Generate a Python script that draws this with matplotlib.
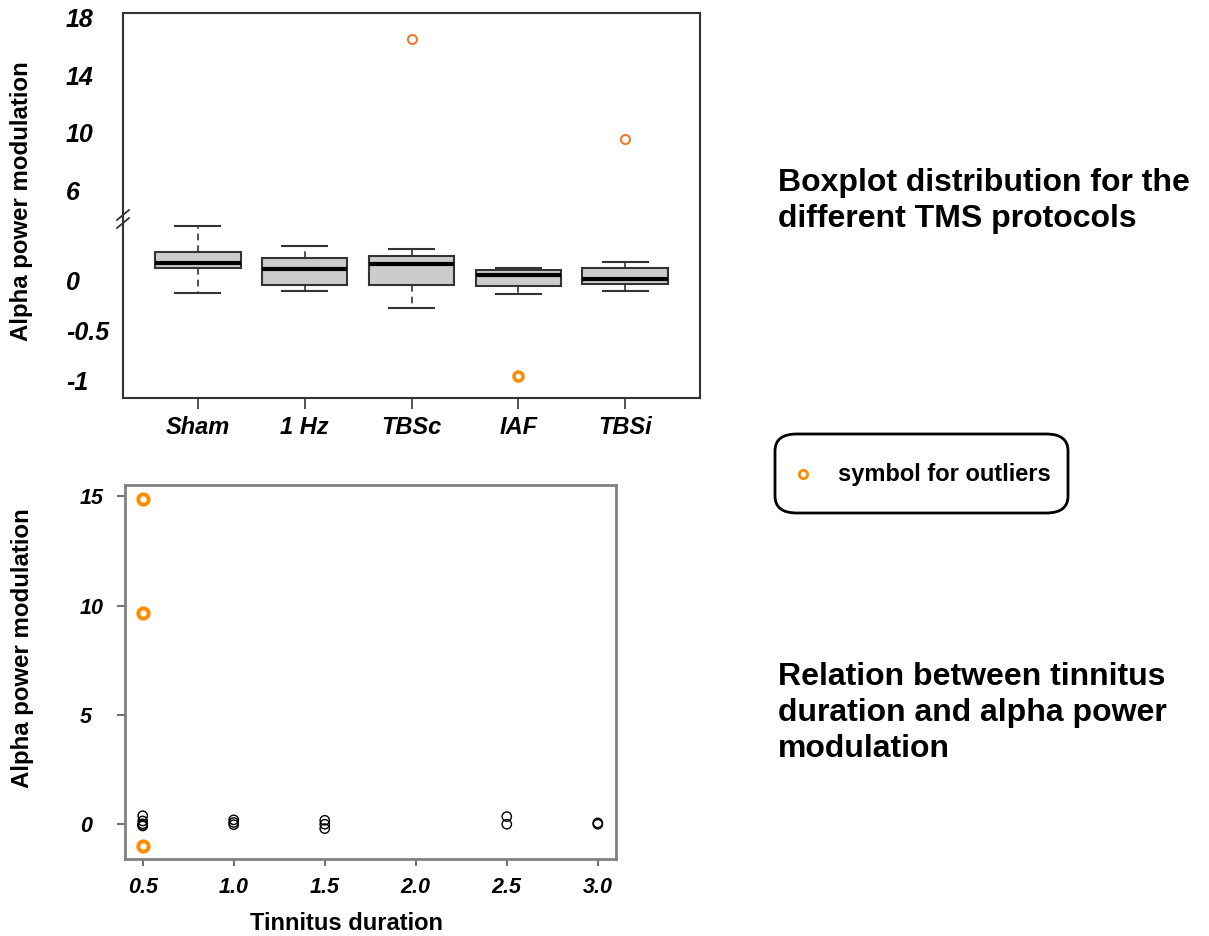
import matplotlib
matplotlib.use("Agg")
import matplotlib.pyplot as plt
from matplotlib.patches import FancyBboxPatch
from matplotlib.lines import Line2D

plt.rcParams['font.family'] = ['Liberation Sans', 'DejaVu Sans']

# boxplot data (top panel)
protocols = ['Sham', '1 Hz', 'TBSc', 'IAF', 'TBSi']
whis_lo = [-0.127, -0.11, -0.277, -0.143, -0.113]
q1 = [0.117, -0.047, -0.047, -0.063, -0.037]
medians = [0.167, 0.113, 0.163, 0.053, 0.013]
q3 = [0.277, 0.223, 0.243, 0.097, 0.123]
whis_hi = [0.54, 0.343, 0.31, 0.123, 0.183]
# outliers: (protocol index, value)
out_pos = [3, 5, 4]
out_val = [16.5, 9.6, -0.96]
out_col = ['#f07a35', '#f07a35', '#ff8c00']
out_lw = [1.5, 1.5, 2.5]

top_ticks_hi = [6, 10, 14, 18]
top_ticks_lo = [-1, -0.5, 0]
top_ticklabels_lo = ['-1', '-0.5', '0']

# scatter data (bottom panel)
duration = [0.5, 0.5, 0.5, 0.5, 0.5, 1.0, 1.0, 1.0, 1.5, 1.5, 1.5, 2.5, 2.5, 3.0, 3.0]
modulation = [0.39, 0.15, 0.02, -0.05, -0.08, 0.2, 0.08, -0.02, 0.18, 0.0, -0.2, 0.35, 0.0, 0.06, 0.0]
dur_out = [0.5, 0.5, 0.5]
mod_out = [14.86, 9.68, -0.98]
dur_ticks = [0.5, 1.0, 1.5, 2.0, 2.5, 3.0]
mod_ticks = [0, 5, 10, 15]

W, H = 1209, 936
fig = plt.figure(figsize=(W / 100, H / 100), dpi=100)

def box(l, t, r, b):
    return [l / W, 1 - b / H, (r - l) / W, (b - t) / H]

ax_hi = fig.add_axes(box(123, 13, 700, 217))
ax_lo = fig.add_axes(box(123, 217, 700, 398))

stats = []
for i in range(len(protocols)):
    stats.append(dict(label=protocols[i], whislo=whis_lo[i], q1=q1[i], med=medians[i],
                      q3=q3[i], whishi=whis_hi[i], fliers=[]))

frame_col = '#333333'
for ax in (ax_hi, ax_lo):
    ax.bxp(stats, positions=range(1, 6), widths=0.8, showfliers=False, patch_artist=True,
           boxprops=dict(facecolor='#cccccc', edgecolor='#333333', linewidth=1.5),
           medianprops=dict(color='black', linewidth=3),
           whiskerprops=dict(color='#333333', linewidth=1.2, linestyle=(0, (4, 3))),
           capprops=dict(color='#333333', linewidth=1.5), capwidths=0.42)
    for p, v, c, lw in zip(out_pos, out_val, out_col, out_lw):
        ax.plot(p, v, 'o', ms=6.5, mfc='none', mec=c, mew=lw)
    ax.set_xlim(0.3, 5.7)
    for s in ax.spines.values():
        s.set_color(frame_col)
        s.set_linewidth(1.5)

ax_hi.set_ylim(4.16, 18.33)
ax_lo.set_ylim(-1.18, 0.63)
ax_hi.spines['bottom'].set_visible(False)
ax_lo.spines['top'].set_visible(False)
ax_hi.set_xticks([])
ax_lo.set_xticks(range(1, 6))
ax_lo.set_xticklabels(protocols, fontsize=17, fontweight='bold', fontstyle='italic')
ax_lo.tick_params(axis='x', length=8, width=1.2, color='#333333', pad=5)

ax_hi.set_yticks(top_ticks_hi)
ax_hi.set_yticklabels([str(t) for t in top_ticks_hi], fontsize=18, fontweight='bold', fontstyle='italic')
ax_lo.set_yticks(top_ticks_lo)
ax_lo.set_yticklabels(top_ticklabels_lo, fontsize=18, fontweight='bold', fontstyle='italic')
for ax in (ax_hi, ax_lo):
    ax.tick_params(axis='y', length=0, pad=41)
    for t in ax.get_yticklabels():
        t.set_ha('left')

# break marks on the left spine
for dy in (0, 8):
    fig.add_artist(Line2D([117 / W, 129 / W], [1 - (220 + dy) / H, 1 - (210 + dy) / H],
                          color='#333333', lw=1.3))
fig.text(22 / W, 1 - 201 / H, 'Alpha power modulation', rotation=90, ha='center', va='center',
         fontsize=17.3, fontweight='bold')

# bottom scatter panel
ax2 = fig.add_axes(box(124.5, 485, 616, 859))
ax2.scatter(duration, modulation, s=45, facecolors='none', edgecolors='black', linewidths=1.0)
ax2.scatter(dur_out, mod_out, s=55, facecolors='white', edgecolors='#ff8c00', linewidths=2.8)
ax2.set_xlim(0.4, 3.1)
ax2.set_ylim(-1.59, 15.51)
ax2.set_xticks(dur_ticks)
ax2.set_xticklabels([f'{d:.1f}' for d in dur_ticks], fontsize=15.5, fontweight='bold', fontstyle='italic')
ax2.set_yticks(mod_ticks)
ax2.set_yticklabels([str(m) for m in mod_ticks], fontsize=15.5, fontweight='bold', fontstyle='italic')
ax2.tick_params(axis='x', length=5, width=1.2, color='#555555', pad=8)
ax2.tick_params(axis='y', length=6, width=1.2, color='#555555', pad=26)
for t in ax2.get_yticklabels():
    t.set_ha('left')
for s in ax2.spines.values():
    s.set_color('#808080')
    s.set_linewidth(2)
fig.text(23 / W, 1 - 648 / H, 'Alpha power modulation', rotation=90, ha='center', va='center',
         fontsize=17.3, fontweight='bold')
fig.text(347 / W, 1 - 924 / H, 'Tinnitus duration', ha='center', va='center',
         fontsize=17, fontweight='bold')

# right side captions
fig.text(778 / W, 1 - 201 / H, 'Boxplot distribution for the\ndifferent TMS protocols',
         ha='left', va='center', fontsize=23, fontweight='bold', linespacing=1.24)
fig.text(778 / W, 1 - 713 / H, 'Relation between tinnitus\nduration and alpha power\nmodulation',
         ha='left', va='center', fontsize=23, fontweight='bold', linespacing=1.24)

# legend box
fig.add_artist(FancyBboxPatch((775 / W, 1 - 513 / H), 293 / W, 79 / H,
                              boxstyle='round,pad=0,rounding_size=0.018',
                              transform=fig.transFigure, facecolor='white',
                              edgecolor='black', linewidth=2))
fig.add_artist(Line2D([803 / W], [1 - 474 / H], marker='o', ms=6, mfc='none',
                      mec='#ff8c00', mew=2))
fig.text(838 / W, 1 - 474 / H, 'symbol for outliers', ha='left', va='center',
         fontsize=17, fontweight='bold')

fig.savefig('out.png', dpi=100)
